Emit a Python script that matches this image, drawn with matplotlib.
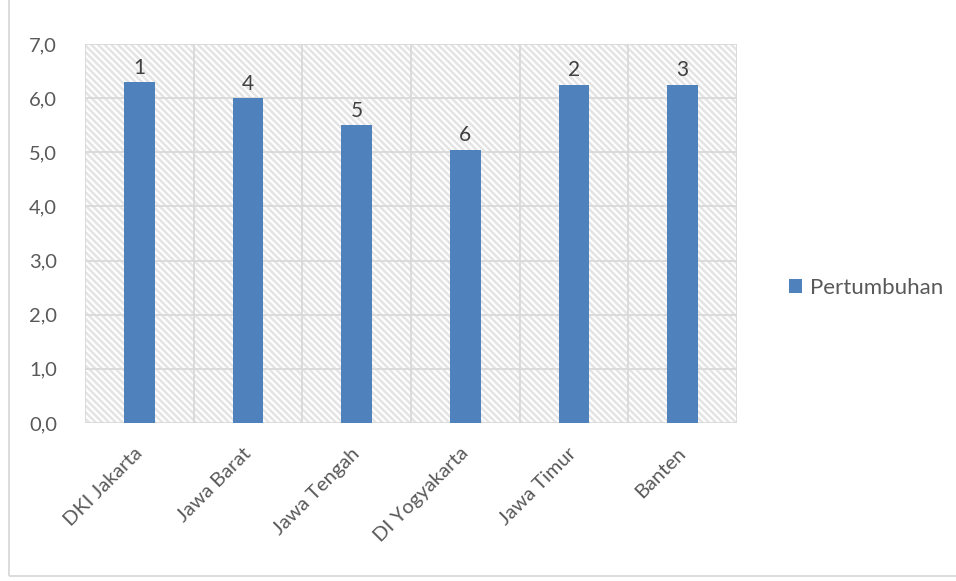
import matplotlib
matplotlib.use("Agg")
import matplotlib.pyplot as plt
from matplotlib.patches import Rectangle

categories = ["DKI Jakarta", "Jawa Barat", "Jawa Tengah", "DI Yogyakarta", "Jawa Timur", "Banten"]
values = [6.3, 6.0, 5.5, 5.05, 6.25, 6.25]
ranks = ["1", "4", "5", "6", "2", "3"]
yticks = [0, 1, 2, 3, 4, 5, 6, 7]
series_name = "Pertumbuhan"

plt.rcParams['font.family'] = ['Lato', 'DejaVu Sans']
plt.rcParams['hatch.linewidth'] = 1.8
plt.rcParams['hatch.color'] = '#e4e4e4'
txt = '#595959'
bar_color = '#4F81BD'

fig = plt.figure(figsize=(9.56, 5.81), dpi=100)
ax = fig.add_axes([85/956, 1 - 423/581, (737-85)/956, (423-44)/581])

ax.set_xlim(-0.5, len(categories) - 0.5)
ax.set_ylim(0, 7)

# hatched background
bg = Rectangle((0, 0), 1, 1, transform=ax.transAxes, facecolor='white',
               edgecolor='#e4e4e4', hatch='\\' * 5, linewidth=0, zorder=0)
ax.add_patch(bg)

# grid lines
for y in yticks:
    ax.axhline(y, color='#d9d9d9', linewidth=1.3, zorder=1)
for i in range(len(categories) + 1):
    ax.axvline(i - 0.5, color='#d9d9d9', linewidth=1.3, zorder=1)

bars = ax.bar(range(len(categories)), values, width=0.28, color=bar_color,
              zorder=3, label=series_name)
for b, r in zip(bars, ranks):
    ax.text(b.get_x() + b.get_width() / 2, b.get_height() + 0.08, r,
            ha='center', va='bottom', fontsize=15, color='#404040', zorder=4)

ax.set_yticks(yticks)
ax.set_yticklabels([f"{v:.1f}".replace('.', ',') for v in yticks], fontsize=14.5, color=txt)
ax.set_xticks(range(len(categories)))
ax.set_xticklabels(categories, rotation=45, ha='right', va='center', rotation_mode='anchor',
                   fontsize=14.5, color=txt)
ax.tick_params(axis='y', length=0, pad=20)
ax.tick_params(axis='x', length=0, pad=20)
for s in ax.spines.values():
    s.set_visible(False)

leg = fig.legend(handles=[bars], labels=[series_name], loc='center left',
                 bbox_to_anchor=(789/956, 1 - 288/581), frameon=False,
                 borderpad=0, borderaxespad=0,
                 fontsize=16, handlelength=0.6, handleheight=0.6, handletextpad=0.35,
                 labelcolor=txt)

# outer chart border
fig.patches.append(Rectangle((9/956, 0.008), 1.2, 1.2, transform=fig.transFigure,
                             fill=False, edgecolor='#d9d9d9', linewidth=1.3))

fig.savefig("out.png", dpi=100)
